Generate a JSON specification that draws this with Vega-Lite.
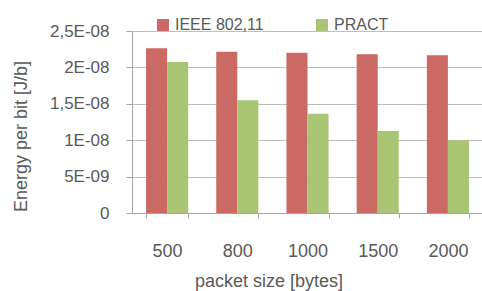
{
  "$schema": "https://vega.github.io/schema/vega-lite/v6.json",
  "width": 351,
  "height": 182,
  "autosize": {"type": "none"},
  "padding": {"left": 132, "top": 31, "right": 0, "bottom": 78},
  "background": "white",
  "config": {
    "view": {"stroke": null},
    "font": "Liberation Sans",
    "axis": {"labelColor": "#595959", "titleColor": "#595959", "titleFontWeight": "normal", "domainColor": "#A6A6A6", "tickColor": "#A6A6A6", "gridColor": "#BFBFBF"}
  },
  "data": {
    "values": [
      {"size": "500", "series": "IEEE 802,11", "value": 2.262e-8},
      {"size": "800", "series": "IEEE 802,11", "value": 2.216e-8},
      {"size": "1000", "series": "IEEE 802,11", "value": 2.202e-8},
      {"size": "1500", "series": "IEEE 802,11", "value": 2.18e-8},
      {"size": "2000", "series": "IEEE 802,11", "value": 2.166e-8},
      {"size": "500", "series": "PRACT", "value": 2.074e-8},
      {"size": "800", "series": "PRACT", "value": 1.548e-8},
      {"size": "1000", "series": "PRACT", "value": 1.364e-8},
      {"size": "1500", "series": "PRACT", "value": 1.126e-8},
      {"size": "2000", "series": "PRACT", "value": 0.998e-8}
    ]
  },
  "mark": {"type": "bar"},
  "encoding": {
    "x": {
      "field": "size", "type": "nominal",
      "sort": ["500", "800", "1000", "1500", "2000"],
      "scale": {"paddingInner": 0.4, "paddingOuter": 0.2},
      "axis": {
        "title": "packet size [bytes]", "labelAngle": 0, "tickBand": "extent", "tickSize": 5,
        "labelFontSize": 18, "labelPadding": 38, "labelBaseline": "alphabetic",
        "titleFontSize": 18, "titleX": 136.5, "titleY": 73, "titleBaseline": "alphabetic", "titleAlign": "center",
        "grid": false
      }
    },
    "xOffset": {"field": "series", "type": "nominal", "sort": ["IEEE 802,11", "PRACT"], "scale": {"paddingInner": 0, "paddingOuter": 0}},
    "y": {
      "field": "value", "type": "quantitative",
      "scale": {"domain": [0, 2.5e-8], "nice": false},
      "axis": {
        "title": "Energy per bit [J/b]",
        "values": [0, 5e-9, 1e-8, 1.5e-8, 2e-8, 2.5e-8],
        "labelExpr": "datum.value < 1e-12 ? '0' : datum.value < 6e-9 ? '5E-09' : datum.value < 1.1e-8 ? '1E-08' : datum.value < 1.6e-8 ? '1,5E-08' : datum.value < 2.1e-8 ? '2E-08' : '2,5E-08'",
        "labelFontSize": 17, "labelPadding": 17, "tickSize": 6,
        "grid": true,
        "titleFontSize": 18, "titleX": -106, "titleY": 105, "titleBaseline": "alphabetic", "titleAlign": "center", "titleAngle": -90
      }
    },
    "color": {
      "field": "series", "type": "nominal",
      "scale": {"domain": ["IEEE 802,11", "PRACT"], "range": ["#CB6A64", "#A9C574"]},
      "legend": {
        "title": null, "orient": "none", "legendX": 23, "legendY": -14, "direction": "horizontal",
        "padding": 0, "symbolType": "square", "symbolSize": 144, "symbolStrokeWidth": 0,
        "labelFontSize": 16, "labelColor": "#595959", "labelOffset": 4, "columnPadding": 50
      }
    }
  }
}
